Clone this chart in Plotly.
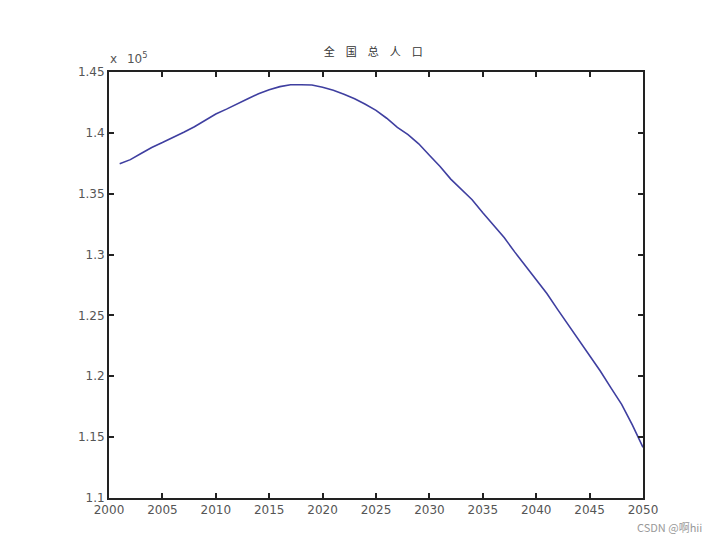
import plotly.graph_objects as go

# 全国总人口 (in units shown as x 10^5)
years = list(range(2001, 2051))
population = [
    137460, 137800, 138300, 138800, 139200, 139600, 140050, 140500, 141000, 141550,
    141950, 142400, 142800, 143220, 143550, 143800, 143950, 143950, 143930, 143750,
    143500, 143180, 142800, 142350, 141850, 141200, 140450, 139850, 139100, 138160,
    137240, 136200, 135340, 134510, 133440, 132400, 131400, 130200, 129050, 128000,
    126800, 125500, 124250, 122900, 121660, 120430, 119050, 117700, 116000, 114160,
]

x_ticks = list(range(2000, 2051, 5))
y_ticks = [110000, 115000, 120000, 125000, 130000, 135000, 140000, 145000]
y_labels = ['1.1', '1.15', '1.2', '1.25', '1.3', '1.35', '1.4', '1.45']

fig = go.Figure()
fig.add_trace(go.Scatter(x=years, y=population, mode='lines',
                         line=dict(color='#3f3fa0', width=1.6),
                         showlegend=False, hoverinfo='x+y'))

axis_style = dict(showline=True, linecolor='#222222', linewidth=2, mirror='allticks',
                  ticks='inside', ticklen=5, tickwidth=1.5, tickcolor='#222222',
                  showgrid=False, zeroline=False,
                  tickfont=dict(family='DejaVu Sans', size=12, color='#555555'))

# the page body adds an 8px offset, so margins are shifted to compensate
fig.update_layout(
    width=709, height=534,
    paper_bgcolor='white', plot_bgcolor='white',
    margin=dict(l=101, r=74, t=64, b=44),
    title=dict(text='全\u2003国\u2003总\u2003人\u2003口',
               xref='paper', x=0.495, xanchor='center',
               yref='container', y=1 - 44 / 534, yanchor='middle',
               font=dict(family='Noto Sans CJK SC', size=11, color='#333333')),
    xaxis=dict(range=[2000, 2050], tickvals=x_ticks, **axis_style),
    yaxis=dict(range=[110000, 145000], tickvals=y_ticks, ticktext=y_labels, **axis_style),
    annotations=[
        dict(text='x\u2002 10<sup>5</sup>', xref='paper', yref='paper', x=-0.002, y=1.01,
             xanchor='left', yanchor='bottom', showarrow=False,
             font=dict(family='DejaVu Sans', size=12, color='#555555')),
        dict(text='CSDN @啊hii', xref='paper', yref='paper', x=1.115, y=-0.068,
             xanchor='right', yanchor='middle', showarrow=False,
             font=dict(family='Noto Sans CJK SC', size=11, color='#999999')),
    ],
)

fig.write_html("out.html")
